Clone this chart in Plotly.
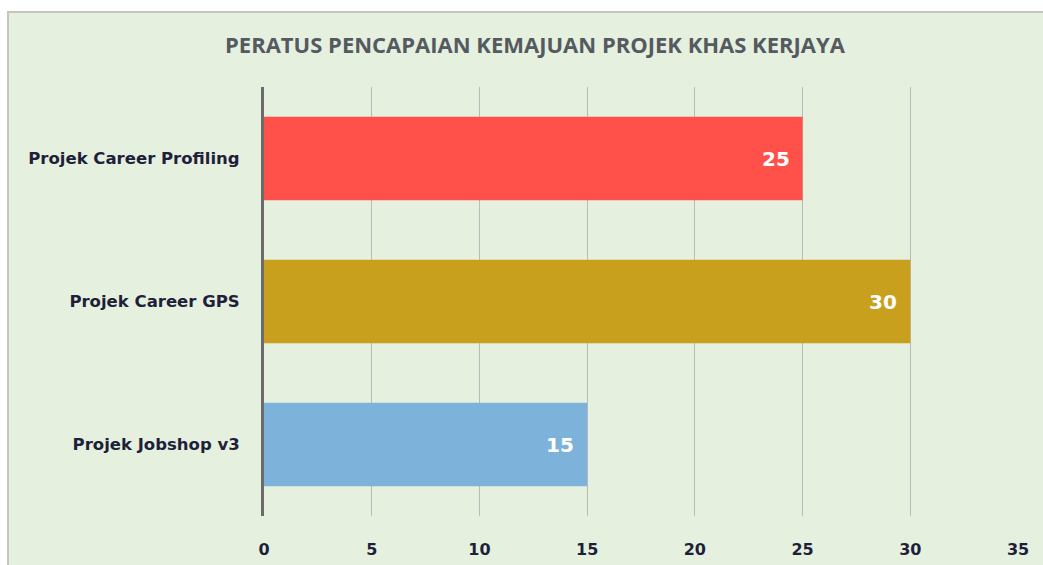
import plotly.graph_objects as go

categories = ["Projek Career Profiling", "Projek Career GPS", "Projek Jobshop v3"]
values = [25, 30, 15]
colors = ["#FF5049", "#C9A01E", "#7DB3DB"]
tick_vals = [0, 5, 10, 15, 20, 25, 30, 35]
title_text = "PERATUS PENCAPAIAN KEMAJUAN PROJEK KHAS KERJAYA"

W, H = 1043, 576
L, R, T, B = 264, 25, 87, 60
pw, ph = W - L - R, H - T - B

fig = go.Figure()
fig.add_trace(go.Bar(
    y=categories, x=values, orientation="h",
    marker=dict(color=colors, line=dict(width=0)),
    hoverinfo="skip",
))

for c, v in zip(categories, values):
    fig.add_annotation(x=v, y=c, text=f"<b>{v}</b>", showarrow=False,
                       xanchor="right", xshift=-11,
                       font=dict(family="DejaVu Sans", size=20, color="white"))

# outer border of chart area
fig.add_shape(type="rect", xref="paper", yref="paper", layer="below",
              x0=(8 - L) / pw, x1=(1070 - L) / pw,
              y0=(H - B - 620) / ph, y1=(H - B - 12) / ph,
              fillcolor="#E5F0DF", line=dict(color="#C4C4C4", width=2))

fig.update_layout(
    width=W, height=H,
    margin=dict(l=L, r=R, t=T, b=B),
    paper_bgcolor="white", plot_bgcolor="#E5F0DF",
    showlegend=False, bargap=0.415,
    title=dict(text="<b>" + title_text + "</b>", x=535 / W, xanchor="center",
               y=1 - 45 / H, yanchor="middle",
               font=dict(family="Open Sans", size=22, color="#555A60")),
    xaxis=dict(range=[0, 35], tickvals=tick_vals, ticktext=[f"<b>{t}</b>" for t in tick_vals],
               showgrid=True, gridcolor="#BABABA", gridwidth=1, zeroline=False,
               showline=False, ticks="", ticklabelstandoff=22,
               tickfont=dict(family="DejaVu Sans", size=16, color="#1F1F3A"),
               fixedrange=True),
    yaxis=dict(categoryorder="array", categoryarray=categories[::-1],
               tickvals=categories, ticktext=[f"<b>{t}</b>" for t in categories],
               showline=True, linecolor="#6B6B6B", linewidth=3,
               showgrid=False, ticks="", ticklabelstandoff=18,
               tickfont=dict(family="DejaVu Sans", size=16.5, color="#1F1F3A"),
               fixedrange=True),
)

fig.write_html("out.html", config={"displayModeBar": False, "staticPlot": True},
               post_script="document.body.style.margin='0';document.body.style.overflow='hidden';")
